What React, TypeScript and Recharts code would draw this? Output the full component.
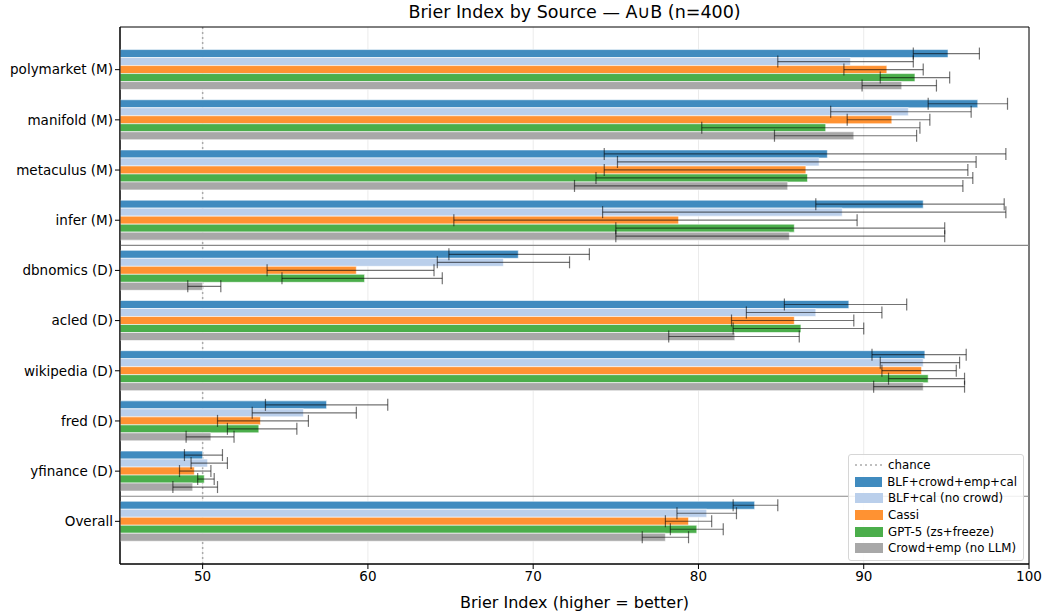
import React from 'react';
import {
  BarChart, Bar, XAxis, YAxis, CartesianGrid, ErrorBar, ReferenceLine, ReferenceArea, Legend,
} from 'recharts';

const categories = ['polymarket (M)', 'manifold (M)', 'metaculus (M)', 'infer (M)', 'dbnomics (D)', 'acled (D)', 'wikipedia (D)', 'fred (D)', 'yfinance (D)', 'Overall'];
const xTicks = [50, 60, 70, 80, 90, 100];

const blfFull = [95.1, 96.9, 87.8, 93.6, 69.1, 89.1, 93.7, 57.5, 50.0, 83.4];
const blfFullLo = [93.0, 93.9, 74.3, 87.1, 64.9, 85.2, 90.5, 53.8, 48.9, 82.1];
const blfFullHi = [97.0, 98.7, 98.6, 98.5, 73.4, 92.6, 96.2, 61.2, 51.2, 84.8];

const blfNoCrowd = [89.2, 92.7, 87.3, 88.7, 68.2, 87.1, 93.6, 56.1, 50.3, 80.5];
const blfNoCrowdLo = [84.8, 88.0, 75.1, 74.2, 64.2, 82.9, 91.0, 53.0, 49.3, 78.7];
const blfNoCrowdHi = [93.0, 96.5, 96.8, 98.6, 72.2, 91.1, 95.8, 59.3, 51.5, 82.3];

const cassi = [91.4, 91.7, 86.5, 78.8, 59.3, 85.8, 93.5, 53.5, 49.5, 79.4];
const cassiLo = [88.8, 89.0, 74.3, 65.2, 53.9, 82.0, 91.1, 50.9, 48.6, 78.0];
const cassiHi = [93.6, 94.0, 96.3, 89.6, 64.0, 89.4, 95.6, 56.4, 50.5, 80.8];

const gpt5 = [93.1, 87.7, 86.6, 85.8, 59.8, 86.2, 93.9, 53.4, 50.1, 79.9];
const gpt5Lo = [91.0, 80.2, 73.8, 75.0, 54.8, 82.1, 91.5, 51.5, 49.7, 78.3];
const gpt5Hi = [95.2, 93.4, 96.6, 94.9, 64.5, 90.0, 96.1, 55.7, 50.7, 81.5];

const crowdEmp = [92.3, 89.4, 85.4, 85.5, 50.0, 82.2, 93.6, 50.5, 49.4, 78.0];
const crowdEmpLo = [89.9, 84.6, 72.5, 75.0, 49.1, 78.2, 90.6, 49.0, 48.2, 76.6];
const crowdEmpHi = [94.4, 93.2, 96.0, 94.9, 51.1, 86.1, 96.1, 51.9, 50.9, 79.4];

const seriesNames = ['BLF+crowd+emp+cal', 'BLF+cal (no crowd)', 'Cassi', 'GPT-5 (zs+freeze)', 'Crowd+emp (no LLM)'];
const seriesColors = ['#408bbf', '#bacfeb', '#ff9232', '#4bae4b', '#a8a8a8'];
const seriesValues = [blfFull, blfNoCrowd, cassi, gpt5, crowdEmp];
const seriesLows = [blfFullLo, blfNoCrowdLo, cassiLo, gpt5Lo, crowdEmpLo];
const seriesHighs = [blfFullHi, blfNoCrowdHi, cassiHi, gpt5Hi, crowdEmpHi];
const separators = [3.5, 8.5];

const data = categories.map((c, i) => {
  const row: Record<string, any> = { idx: i, name: c };
  seriesValues.forEach((vals, s) => {
    row[`s${s}`] = vals[i];
    row[`e${s}`] = [vals[i] - seriesLows[s][i], seriesHighs[s][i] - vals[i]];
  });
  return row;
});

const FONT = '"DejaVu Sans", sans-serif';

const LegendBox = () => (
  <div
    style={{
      background: 'rgba(255,255,255,0.85)',
      border: '1px solid #d6d6d6',
      borderRadius: 3,
      padding: '2px 6px 3px 6px',
      fontFamily: FONT,
      fontSize: 11.8,
      color: '#000',
      width: 162,
    }}
  >
    <div style={{ display: 'flex', alignItems: 'center', height: 16.6 }}>
      <svg width={28} height={10} style={{ marginRight: 5 }}>
        <line x1={0} y1={5} x2={28} y2={5} stroke="#aaaaaa" strokeWidth={1.5} strokeDasharray="2 3" />
      </svg>
      <span>chance</span>
    </div>
    {seriesNames.map((n, i) => (
      <div key={n} style={{ display: 'flex', alignItems: 'center', height: 16.6 }}>
        <div style={{ width: 28, height: 10, background: seriesColors[i], marginRight: 5 }} />
        <span style={{ whiteSpace: 'nowrap' }}>{n}</span>
      </div>
    ))}
  </div>
);

export default function App() {
  return (
    <div style={{ position: 'absolute', left: 0, top: 0, width: 1046, height: 615, fontFamily: FONT, background: '#fff' }}>
      <div
        style={{
          position: 'absolute', left: 120, top: 2, width: 909, textAlign: 'center',
          fontSize: 17.5, lineHeight: '20px', fontFamily: FONT, color: '#000',
        }}
      >
        Brier Index by Source — A∪B (n=400)
      </div>
      <BarChart
        width={1046}
        height={615}
        data={data}
        layout="vertical"
        margin={{ top: 27, right: 17, left: 0, bottom: 6 }}
        barGap={0}
        barSize={8}
      >
        <CartesianGrid horizontal={false} stroke="#ebebeb" strokeWidth={1} />
        <ReferenceLine x={50} stroke="#aaaaaa" strokeWidth={1.5} strokeDasharray="2 3" zIndex={50} />
        <XAxis
          type="number"
          domain={[45, 100]}
          allowDataOverflow
          ticks={xTicks}
          height={45}
          tickSize={5}
          tick={{ fill: '#000', fontSize: 13.5, fontFamily: FONT }}
          axisLine={{ stroke: '#000' }}
          tickLine={{ stroke: '#000' }}
          label={{ value: 'Brier Index (higher = better)', position: 'insideBottom', offset: 1, fill: '#000', fontSize: 16, fontFamily: FONT }}
        />
        <YAxis
          type="number"
          dataKey="idx"
          domain={[-0.85, 9.85]}
          allowDataOverflow
          ticks={[0, 1, 2, 3, 4, 5, 6, 7, 8, 9]}
          interval={0}
          tickFormatter={(v: number) => categories[v] ?? ''}
          width={120}
          tickSize={5}
          tick={{ fill: '#000', fontSize: 13.5, fontFamily: FONT }}
          axisLine={{ stroke: '#000' }}
          tickLine={{ stroke: '#000' }}
        />
        {seriesNames.map((n, s) => (
          <Bar key={n} dataKey={`s${s}`} name={n} fill={seriesColors[s]} stroke="#ffffff" strokeWidth={0.6} isAnimationActive={false}>
            <ErrorBar dataKey={`e${s}`} direction="x" width={6} stroke="#000" strokeOpacity={0.55} strokeWidth={1.2} />
          </Bar>
        ))}
        {separators.map((y) => (
          <ReferenceLine key={y} y={y} stroke="#888888" strokeWidth={1.2} />
        ))}
        <ReferenceArea x1={45} x2={100} y1={-0.85} y2={9.85} fill="none" fillOpacity={0} stroke="#000" strokeWidth={1} />
        <Legend
          layout="horizontal"
          verticalAlign="middle"
          align="center"
          content={() => <LegendBox />}
          wrapperStyle={{ position: 'absolute', left: 848, top: 454, width: 178 }}
        />
      </BarChart>
    </div>
  );
}
